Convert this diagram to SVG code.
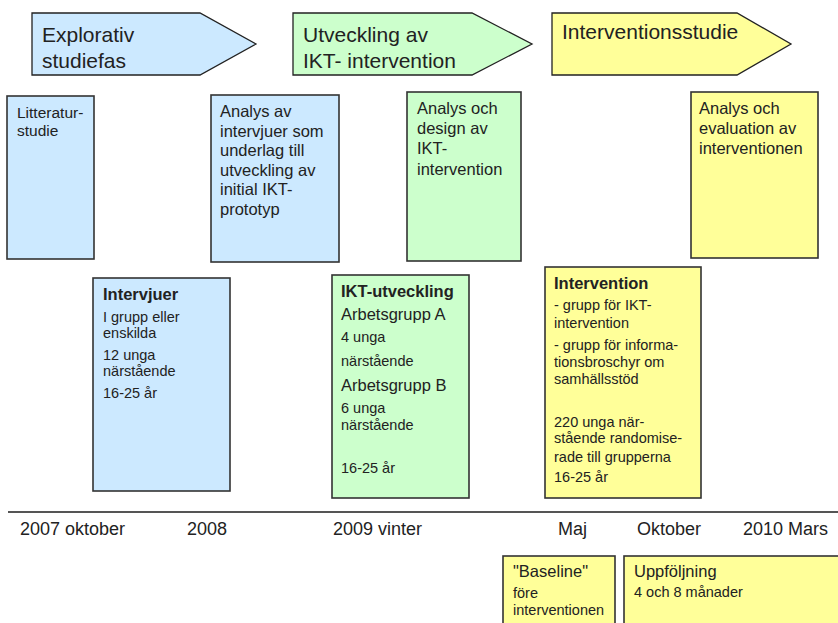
<svg xmlns="http://www.w3.org/2000/svg" width="838" height="623" viewBox="0 0 838 623">
<style>
text{font-family:"Liberation Sans",Arial,sans-serif;fill:#222}
.blue{fill:#CCE9FF}.green{fill:#CCFFCC}.yellow{fill:#FFFF99}
.arr{stroke:#222;stroke-width:1.3}
.box{stroke:#333;stroke-width:1.6}
.h{font-size:21px}
.m{font-size:16.5px}
.s{font-size:14.5px}
.b{font-size:16.5px;font-weight:bold}
.t{font-size:18px}
</style>
<rect width="838" height="623" fill="#fff"/>
<g id="phase1">
<polygon class="blue arr" points="32,13 200,13 256,44 200,75 32,75"/>
<text class="h" x="42" y="42">Explorativ</text>
<text class="h" x="42" y="68">studiefas</text>
</g>
<g id="phase2">
<polygon class="green arr" points="293,13 472,13 532,44 472,75 293,75"/>
<text class="h" x="303" y="42">Utveckling av</text>
<text class="h" x="303" y="68">IKT- intervention</text>
</g>
<g id="phase3">
<polygon class="yellow arr" points="552,13 737,13 791,44 737,75 552,75"/>
<text class="h" x="562" y="39">Interventionsstudie</text>
</g>
<g id="litteratur">
<rect class="blue box" x="7" y="96" width="87" height="163"/>
<text style="font-size:15.5px" x="17" y="118">Litteratur-</text>
<text style="font-size:15.5px" x="17" y="136">studie</text>
</g>
<g id="analys1">
<rect class="blue box" x="211" y="95" width="128" height="167"/>
<text class="m" x="220" y="117">Analys av</text>
<text class="m" x="220" y="136.5">intervjuer som</text>
<text class="m" x="220" y="156">underlag till</text>
<text class="m" x="220" y="175.5">utveckling av</text>
<text class="m" x="220" y="195">initial IKT-</text>
<text class="m" x="220" y="214.5">prototyp</text>
</g>
<g id="analys2">
<rect class="green box" x="407" y="92" width="114" height="169"/>
<text class="m" x="417" y="114">Analys och</text>
<text class="m" x="417" y="134">design av</text>
<text class="m" x="417" y="154">IKT-</text>
<text class="m" x="417" y="175">intervention</text>
</g>
<g id="analys3">
<rect class="yellow box" x="691" y="92" width="127" height="166"/>
<text class="m" x="699" y="114">Analys och</text>
<text class="m" x="699" y="134">evaluation av</text>
<text class="m" x="699" y="154">interventionen</text>
</g>
<g id="intervjuer">
<rect class="blue box" x="93" y="278" width="137" height="213"/>
<text class="b" x="103" y="300">Intervjuer</text>
<text class="s" x="103" y="322">I grupp eller</text>
<text class="s" x="103" y="338">enskilda</text>
<text class="s" x="103" y="360">12 unga</text>
<text class="s" x="103" y="376">närstående</text>
<text class="s" x="103" y="398">16-25 år</text>
</g>
<g id="iktutveckling">
<rect class="green box" x="332" y="275" width="137" height="223"/>
<text class="b" x="341" y="297">IKT-utveckling</text>
<text class="m" x="341" y="320">Arbetsgrupp A</text>
<text class="s" x="341" y="342">4 unga</text>
<text class="s" x="341" y="366">närstående</text>
<text class="m" x="341" y="391">Arbetsgrupp B</text>
<text class="s" x="341" y="413">6 unga</text>
<text class="s" x="341" y="430">närstående</text>
<text class="s" x="341" y="473">16-25 år</text>
</g>
<g id="intervention">
<rect class="yellow box" x="545" y="267" width="156" height="231"/>
<text class="b" x="554" y="289">Intervention</text>
<text class="s" x="554" y="310">- grupp för IKT-</text>
<text class="s" x="554" y="328">intervention</text>
<text class="s" x="554" y="350">- grupp för informa-</text>
<text class="s" x="554" y="367">tionsbroschyr om</text>
<text class="s" x="554" y="384">samhällsstöd</text>
<text class="s" x="554" y="427">220 unga när-</text>
<text class="s" x="554" y="443">stående randomise-</text>
<text class="s" x="554" y="462">rade till grupperna</text>
<text class="s" x="554" y="482">16-25 år</text>
</g>
<g id="timeline">
<line x1="8" y1="512" x2="838" y2="512" stroke="#555" stroke-width="2"/>
<text class="t" x="20" y="535">2007 oktober</text>
<text class="t" x="187" y="535">2008</text>
<text class="t" x="333" y="535">2009 vinter</text>
<text class="t" x="558" y="535">Maj</text>
<text class="t" x="637" y="535">Oktober</text>
<text class="t" x="743" y="535">2010 Mars</text>
</g>
<g id="baseline">
<rect class="yellow box" x="503" y="556" width="112" height="80"/>
<text class="m" x="513" y="577">"Baseline"</text>
<text class="s" x="513" y="598">före</text>
<text class="s" x="513" y="615">interventionen</text>
</g>
<g id="uppfoljning">
<rect class="yellow box" x="624" y="556" width="230" height="80"/>
<text class="m" x="634" y="577">Uppföljning</text>
<text class="s" x="634" y="597">4 och 8 månader</text>
</g>
<g id="connectors"></g>
</svg>
